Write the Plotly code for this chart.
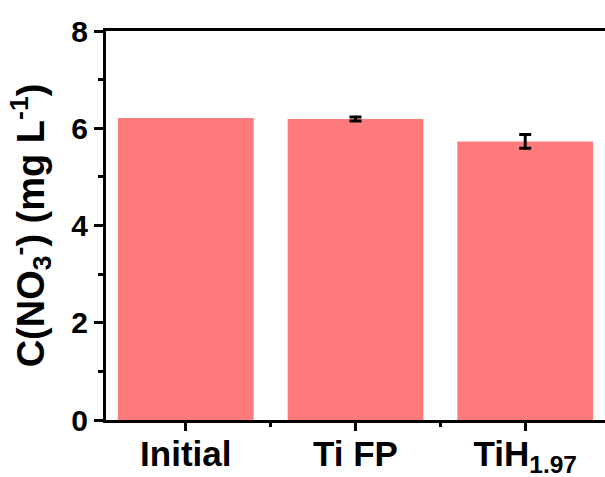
import plotly.graph_objects as go

# Nitrate concentration by sample
categories = ["Initial", "Ti FP", "TiH<sub>1.97</sub>"]
conc = [6.21, 6.19, 5.73]
conc_err = [None, 0.04, 0.14]   # no replicate spread for the initial solution
y_ticks = [0, 2, 4, 6, 8]

bar_color = "#FF7A7A"
font_family = "Liberation Sans, Arial, sans-serif"
xpos = list(range(len(categories)))

fig = go.Figure()
fig.add_trace(go.Bar(
    x=xpos,
    y=conc,
    width=0.8,
    marker=dict(color=bar_color, line=dict(width=0)),
))

# error bars only where a spread was measured
err_idx = [i for i, e in enumerate(conc_err) if e is not None]
fig.add_trace(go.Scatter(
    x=[xpos[i] for i in err_idx],
    y=[conc[i] for i in err_idx],
    mode="markers",
    marker=dict(size=0.1, color="rgba(0,0,0,0)"),
    error_y=dict(type="data", array=[conc_err[i] for i in err_idx],
                 visible=True, color="black", thickness=3, width=6),
    hoverinfo="skip",
))

fig.update_layout(
    width=605,
    height=477,
    margin=dict(l=106, r=0, t=31, b=57),
    plot_bgcolor="white",
    paper_bgcolor="white",
    showlegend=False,
    font=dict(family=font_family, color="black"),
)

fig.update_xaxes(
    range=[-0.47, 2.47],
    automargin=False,
    tickmode="array",
    tickvals=xpos,
    ticktext=[f"<b>{c}</b>" for c in categories],
    tickfont=dict(size=35, family=font_family, color="black"),
    ticks="outside", ticklen=8, tickwidth=3, tickcolor="black",
    ticklabelstandoff=-7,
    minor=dict(tickvals=[0.5, 1.5], ticks="outside", ticklen=4,
               tickwidth=3, tickcolor="black", showgrid=False),
    showline=True, linewidth=3, linecolor="black", mirror=True,
    showgrid=False, zeroline=False,
)

fig.update_yaxes(
    range=[0, 8],
    automargin=False,
    tickmode="array",
    tickvals=y_ticks,
    ticktext=[f"<b>{v}</b>" for v in y_ticks],
    tickfont=dict(size=30, family=font_family, color="black"),
    ticks="outside", ticklen=9, tickwidth=3, tickcolor="black",
    minor=dict(tickvals=[1, 3, 5, 7], ticks="outside", ticklen=5,
               tickwidth=3, tickcolor="black", showgrid=False),
    showline=True, linewidth=3, linecolor="black", mirror=False,
    showgrid=False, zeroline=False,
    title=dict(
        text="<b>C(NO<sub>3</sub><sup>-</sup>) (mg L<sup>-1</sup>)</b>",
        font=dict(size=38, family=font_family, color="black"),
        standoff=16,
    ),
)

fig.write_html("out.html")
